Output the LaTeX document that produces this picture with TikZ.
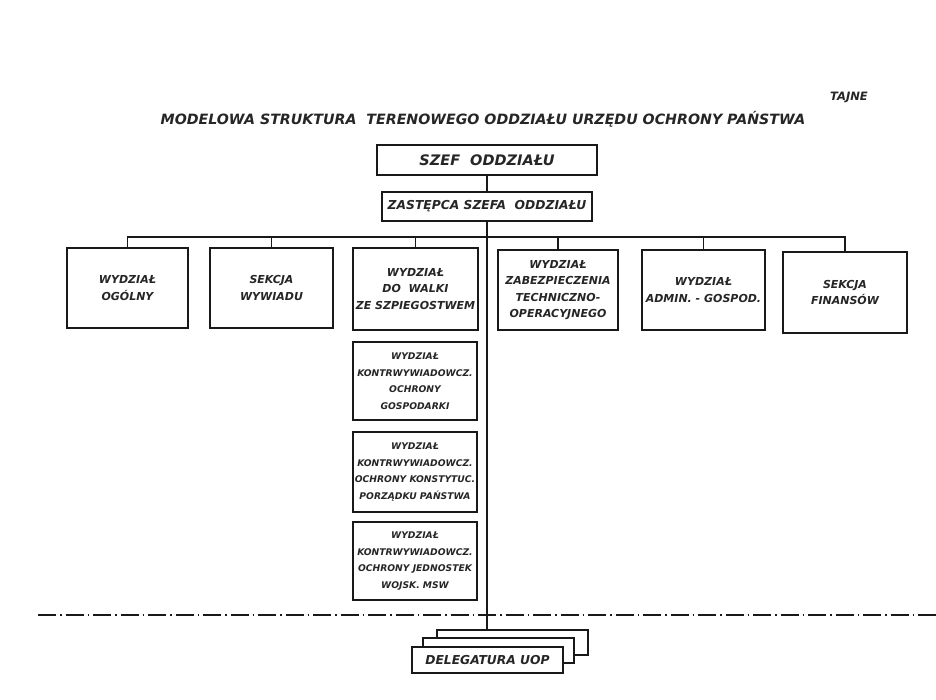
\documentclass[tikz,border=0pt]{standalone}
\usepackage{fontspec}
\setmainfont{DejaVu Sans}
\newfontfamily\stencil{DejaVu Sans}
\begin{document}
\begin{tikzpicture}[x=1pt,y=-1pt,
  ink/.style={draw=black!90},
  orgbox/.style={ink,line width=2.3pt,fill=white,align=center,inner sep=0.5pt,
     font=\stencil\bfseries\itshape\fontsize{11}{16.5}\selectfont,text=black!85},
  smallbox/.style={orgbox,font=\stencil\bfseries\itshape\fontsize{9.2}{16.5}\selectfont},
  bigbox/.style={orgbox,font=\stencil\bfseries\itshape\fontsize{14.5}{16}\selectfont},
  midbox/.style={orgbox,font=\stencil\bfseries\itshape\fontsize{12.3}{14}\selectfont},
  link/.style={ink,line width=1.4pt},
  sepline/.style={ink,line width=1.5pt,dash pattern=on 18pt off 4pt on 1.5pt off 4pt}]
\useasboundingbox (0,0) rectangle (936,700);
\fill[white] (0,0) rectangle (936,700);

\node[font=\stencil\bfseries\itshape\fontsize{11.5}{13}\selectfont,text=black!85] (tajne) at (849,97) {TAJNE};
\node[font=\stencil\bfseries\itshape\fontsize{14.2}{16}\selectfont,text=black!85] (title) at (483,119)
  {MODELOWA STRUKTURA\ \ TERENOWEGO ODDZIAŁU URZĘDU OCHRONY PAŃSTWA};

\node[bigbox,minimum width=220pt,minimum height=30pt] (szef) at (487,160) {SZEF\ \ ODDZIAŁU};
\node[midbox,minimum width=210pt,minimum height=29pt] (zast) at (487,206.5) {ZASTĘPCA SZEFA\ \ ODDZIAŁU};

\node[orgbox,minimum width=121pt,minimum height=80pt] (b1) at (127.5,288) {WYDZIAŁ\\OGÓLNY};
\node[orgbox,minimum width=123pt,minimum height=80pt] (b2) at (271.5,288) {SEKCJA\\WYWIADU};
\node[orgbox,minimum width=125pt,minimum height=82pt] (b3) at (415.5,289) {WYDZIAŁ\\DO\ \ WALKI\\ZE SZPIEGOSTWEM};
\node[orgbox,minimum width=120pt,minimum height=80pt] (b4) at (558,290) {WYDZIAŁ\\ZABEZPIECZENIA\\TECHNICZNO-\\OPERACYJNEGO};
\node[orgbox,minimum width=123pt,minimum height=80pt] (b5) at (703.5,290) {WYDZIAŁ\\ADMIN. - GOSPOD.};
\node[orgbox,minimum width=124pt,minimum height=81pt] (b6) at (845,292.5) {SEKCJA\\FINANSÓW};

\node[smallbox,minimum width=124pt,minimum height=78pt] (ka) at (415,381) {WYDZIAŁ\\KONTRWYWIADOWCZ.\\OCHRONY\\GOSPODARKI};
\node[smallbox,minimum width=124pt,minimum height=80pt] (kb) at (415,472) {WYDZIAŁ\\KONTRWYWIADOWCZ.\\OCHRONY KONSTYTUC.\\PORZĄDKU PAŃSTWA};
\node[smallbox,minimum width=124pt,minimum height=78pt] (kc) at (415,561) {WYDZIAŁ\\KONTRWYWIADOWCZ.\\OCHRONY JEDNOSTEK\\WOJSK. MSW};

\coordinate (dl) at (38,615);
\coordinate (dr) at (936,615);
\draw[sepline] (dl) -- (dr);

\node[orgbox,minimum width=151pt,minimum height=25pt] (delb) at (512.5,642.5) {};
\node[orgbox,minimum width=151pt,minimum height=25pt] (delm) at (498.5,650.5) {};
\node[midbox,minimum width=151pt,minimum height=26pt] (del) at (487.5,660) {DELEGATURA UOP};

\coordinate (bus) at (487,237);
\draw[link] (szef) -- (zast);
\draw[link] (zast.south) -- (zast.south |- delb.north);
\draw[link] (b1.north) -- (b1.north |- bus) -- (b6.north |- bus) -- (b6.north);
\foreach \b in {b2,b3,b4,b5}{\draw[link] (\b.north) -- (\b.north |- bus);}
\end{tikzpicture}
\end{document}
